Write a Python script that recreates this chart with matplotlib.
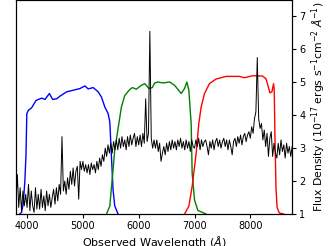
import numpy as np
import matplotlib
matplotlib.use("Agg")
import matplotlib.pyplot as plt

# spectrum, 25 A grid from 3800 to 8750
wave = np.arange(3800, 8751, 25)
flux = [
    1.3, 2.2, 1.2, 1.8, 1.1, 1.7, 1.25, 1.6,
    1.2, 1.9, 1.1, 1.7, 1.25, 1.05, 1.8, 1.15,
    1.6, 1.15, 1.75, 1.2, 1.55, 1.1, 1.7, 1.25,
    1.6, 1.2, 1.5, 1.75, 1.3, 1.8, 1.4, 1.9,
    1.6, 3.35, 1.7, 2.0, 1.6, 2.1, 1.75, 2.3,
    1.9, 2.4, 1.85, 2.3, 2.45, 1.45, 2.6, 2.35,
    2.6, 2.3, 2.5, 2.25, 2.5, 2.2, 2.55, 2.35,
    2.5, 2.25, 2.6, 2.35, 2.7, 2.45, 2.8, 2.6,
    3.0, 2.75, 3.1, 2.85, 3.15, 2.85, 3.2, 2.95,
    3.25, 2.95, 3.3, 3.0, 3.35, 3.05, 3.25, 2.95,
    3.35, 3.05, 3.4, 3.1, 3.3, 3.45, 3.05, 3.35,
    3.1, 3.4, 3.05, 3.45, 3.15, 4.5, 3.2, 3.45,
    6.55, 3.3, 3.0, 3.25, 3.0, 3.25, 2.9, 3.15,
    2.6, 2.85, 3.05, 2.8, 3.15, 2.9, 3.2, 2.95,
    3.25, 3.0, 3.2, 2.95, 3.25, 3.05, 3.3, 3.0,
    3.2, 2.95, 3.25, 3.0, 3.2, 2.9, 3.25, 3.05,
    3.0, 3.25, 3.05, 3.3, 2.95, 3.25, 3.05, 3.2,
    3.25, 3.05, 2.8, 3.2, 3.0, 3.25, 2.95, 3.2,
    3.3, 3.05, 3.25, 3.0, 3.2, 3.3, 3.05, 3.25,
    2.95, 3.25, 3.05, 2.8, 3.2, 3.3, 3.05, 3.35,
    3.15, 3.4, 3.1, 3.35, 3.45, 3.2, 3.4, 3.5,
    3.3, 3.65, 3.45, 3.9, 4.1, 5.75, 3.9, 3.6,
    3.75, 3.25, 3.55, 3.05, 3.45, 2.75, 3.3, 3.5,
    2.75, 3.15, 2.85, 2.7, 3.15, 2.8, 3.25, 2.9,
    3.1, 2.7, 3.15, 2.85, 3.05, 2.75, 3.05,
]

# filter throughputs (arbitrary scale)
blue_wave = [3870, 3900, 3930, 3960, 3980, 3995, 4023, 4083, 4160, 4262, 4321, 4399,
             4458, 4530, 4589, 4708, 4827, 4946, 5036, 5095, 5185, 5274, 5333, 5393,
             5452, 5482, 5510, 5540, 5570, 5630]
blue_thr = [0.0, 0.05, 0.3, 1.0, 1.8, 3.05, 3.15, 3.23, 3.45, 3.52, 3.48, 3.66,
            3.48, 3.5, 3.58, 3.71, 3.76, 3.81, 3.89, 3.8, 3.84, 3.71, 3.55, 3.25,
            3.05, 2.8, 1.8, 0.75, 0.25, 0.0]

green_wave = [5423, 5482, 5530, 5571, 5649, 5690, 5750, 5839, 5887, 5958, 6048, 6107,
              6185, 6244, 6286, 6345, 6434, 6554, 6643, 6762, 6821, 6863, 6899, 6923,
              6940, 6958, 7000, 7059, 7208]
green_thr = [0.0, 0.24, 1.15, 1.95, 2.8, 3.25, 3.6, 3.78, 3.84, 3.79, 3.91, 3.96,
             3.81, 3.84, 3.98, 4.01, 3.98, 4.01, 3.91, 3.66, 3.81, 4.01, 3.76, 3.15,
             2.75, 1.24, 0.43, 0.11, 0.0]

red_wave = [6821, 6899, 6958, 7030, 7077, 7119, 7179, 7268, 7387, 7565, 7804, 7893,
            8041, 8220, 8280, 8327, 8351, 8387, 8417, 8429, 8440, 8460, 8480, 8520, 8600]
red_thr = [0.0, 0.24, 0.84, 1.85, 2.75, 3.25, 3.66, 3.96, 4.1, 4.18, 4.18, 4.14,
           4.2, 4.19, 4.11, 3.84, 3.68, 3.71, 3.96, 3.76, 2.5, 0.8, 0.2, 0.03, 0.0]

fig = plt.figure(figsize=(3.32, 2.46), dpi=100)
ax = fig.add_axes([0.048, 0.13, 0.832, 0.87])

ax.plot(blue_wave, blue_thr, color="blue", lw=1.0)
ax.plot(green_wave, green_thr, color="green", lw=1.0)
ax.plot(red_wave, red_thr, color="red", lw=1.0)
ax.set_ylim(0, 6.5)
ax.set_yticks([])
ax.set_xlim(3800, 8750)
ax.set_xticks([4000, 5000, 6000, 7000, 8000])
ax.tick_params(axis="x", labelsize=7, length=3, pad=2)
ax.set_xlabel(r"Observed Wavelength ($\AA$)", fontsize=8, labelpad=2)

ax2 = ax.twinx()
ax2.plot(wave, flux, color="black", lw=0.7)
ax2.set_ylim(1, 7.5)
ax2.set_yticks([1, 2, 3, 4, 5, 6, 7])
ax2.tick_params(axis="y", labelsize=7, length=3, pad=2)
ax2.set_ylabel(r"Flux Density ($10^{-17}$ ergs s$^{-1}$cm$^{-2}$ $\AA^{-1}$)",
               fontsize=7.8, labelpad=3)

fig.savefig("out.png", dpi=100)
